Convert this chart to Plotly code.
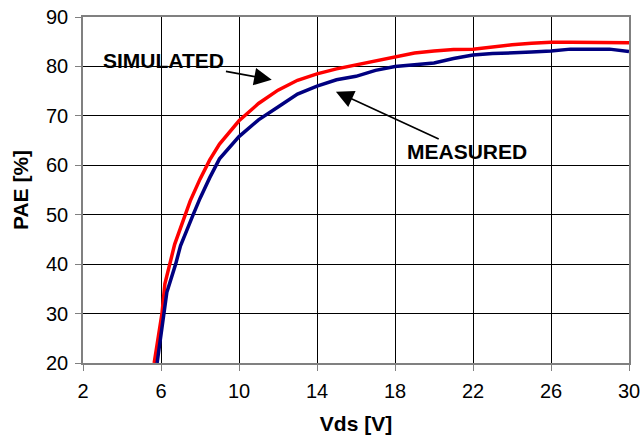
import plotly.graph_objects as go

# Simulated PAE versus drain voltage
vds_sim = [5.65, 6.05, 6.2, 6.7, 7.2, 7.5, 8.0, 8.5, 9.0, 10.0, 11.0, 12.0, 13.0, 14.0, 15.0,
           16.0, 17.0, 18.0, 19.0, 20.0, 21.0, 22.0, 23.0, 24.0, 25.0, 26.0, 27.0, 28.0, 29.0, 30.0]
pae_sim = [20.0, 30.0, 36.0, 44.0, 49.5, 52.8, 57.2, 61.1, 64.3, 69.0, 72.5, 75.2, 77.2, 78.5, 79.5,
           80.3, 81.2, 82.0, 82.7, 83.1, 83.4, 83.5, 84.0, 84.4, 84.7, 84.9, 84.9, 84.9, 84.9, 84.8]

# Measured PAE versus drain voltage
vds_meas = [5.8, 6.15, 6.3, 6.75, 7.0, 7.65, 8.0, 8.5, 9.0, 10.0, 11.0, 12.0, 13.0, 14.0, 15.0,
            16.0, 17.0, 18.0, 19.0, 20.0, 21.0, 22.0, 23.0, 24.0, 25.0, 26.0, 27.0, 28.0, 29.0, 30.0]
pae_meas = [20.0, 30.0, 34.3, 40.0, 43.7, 50.0, 53.3, 57.5, 61.3, 65.8, 69.2, 71.8, 74.4, 76.0, 77.3,
            78.0, 79.2, 80.0, 80.4, 80.7, 81.6, 82.3, 82.6, 82.7, 82.9, 83.1, 83.5, 83.5, 83.5, 83.0]

x_ticks = [2, 6, 10, 14, 18, 22, 26, 30]
y_ticks = [20, 30, 40, 50, 60, 70, 80, 90]

FONT = "Liberation Sans, Arial, sans-serif"

fig = go.Figure()
fig.add_trace(go.Scatter(x=vds_sim, y=pae_sim, mode="lines", name="SIMULATED",
                         line=dict(color="#ff0000", width=3.5)))
fig.add_trace(go.Scatter(x=vds_meas, y=pae_meas, mode="lines", name="MEASURED",
                         line=dict(color="#000080", width=3.5)))

# Labels with arrows pointing to each curve
fig.add_annotation(x=11.68, y=77.3, ax=6.15, ay=81.3, axref="x", ayref="y",
                   text="<b>SIMULATED</b>", showarrow=True, arrowhead=2, arrowsize=2.2,
                   arrowwidth=1.6, arrowcolor="#000000", standoff=0,
                   font=dict(family=FONT, size=21, color="#000000"))
fig.add_annotation(x=14.97, y=74.9, ax=21.69, ay=62.7, axref="x", ayref="y",
                   text="<b>MEASURED</b>", showarrow=True, arrowhead=2, arrowsize=2.2,
                   arrowwidth=1.6, arrowcolor="#000000", standoff=0,
                   font=dict(family=FONT, size=21, color="#000000"))

fig.update_layout(
    width=644, height=441,
    margin=dict(l=83, r=15, t=17, b=78),
    paper_bgcolor="#ffffff", plot_bgcolor="#ffffff",
    showlegend=False,
    font=dict(family=FONT, size=20, color="#000000"),
)
fig.update_xaxes(
    range=[2, 30], tickvals=x_ticks, ticktext=[str(v) for v in x_ticks],
    automargin=False,
    ticks="outside", ticklen=6, tickcolor="#808080", tickwidth=1, ticklabelstandoff=3,
    showline=True, linecolor="#808080", linewidth=1.5, mirror=True,
    showgrid=True, gridcolor="#000000", gridwidth=1, zeroline=False,
    tickfont=dict(family=FONT, size=20),
    title=dict(text="<b>Vds [V]</b>", font=dict(family=FONT, size=21), standoff=16),
)
fig.update_yaxes(
    range=[20, 90], tickvals=y_ticks, ticktext=[str(v) for v in y_ticks],
    automargin=False,
    ticks="outside", ticklen=6, tickcolor="#808080", tickwidth=1, ticklabelstandoff=3,
    showline=True, linecolor="#808080", linewidth=1.5, mirror=True,
    showgrid=True, gridcolor="#000000", gridwidth=1, zeroline=False,
    tickfont=dict(family=FONT, size=20),
    title=dict(text="<b>PAE [%]</b>", font=dict(family=FONT, size=21), standoff=12),
)

fig.write_html("out.html")
